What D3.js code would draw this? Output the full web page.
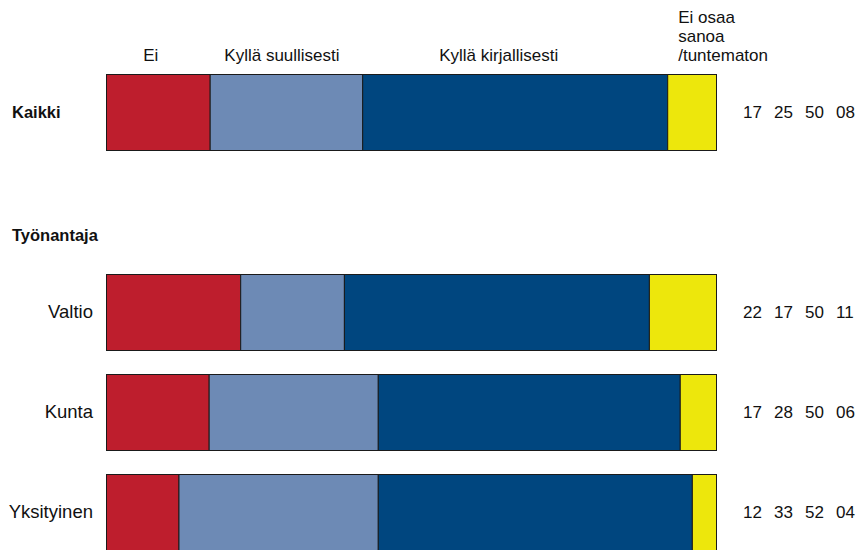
<!DOCTYPE html>
<html>
<head>
<meta charset="utf-8">
<script src="https://cdn.jsdelivr.net/npm/d3@7"></script>
<style>
  body { margin: 0; background: #fff; }
  svg { font-family: "Liberation Sans", Arial, sans-serif; }
</style>
</head>
<body>
<svg width="860" height="550"></svg>
<script>
var svg = d3.select("svg");

// data
var rows = ["Kaikki", "Työnantaja", "Valtio", "Kunta", "Yksityinen"];
var keys = ["Ei", "Kyllä suullisesti", "Kyllä kirjallisesti", "Ei osaa sanoa /tuntematon"];
var headerLines = [["Ei"], ["Kyllä suullisesti"], ["Kyllä kirjallisesti"], ["Ei osaa", "sanoa", "/tuntematon"]];
var ei = [17, 22, 17, 12];
var suullisesti = [25, 17, 28, 33];
var kirjallisesti = [50, 50, 50, 52];
var tuntematon = [8, 11, 6, 4];
var barRows = ["Kaikki", "Valtio", "Kunta", "Yksityinen"];
var colors = ["#be1e2d", "#6d8ab5", "#00467f", "#ede70c"];

var table = barRows.map(function (r, i) {
  return {
    row: r,
    "Ei": ei[i],
    "Kyllä suullisesti": suullisesti[i],
    "Kyllä kirjallisesti": kirjallisesti[i],
    "Ei osaa sanoa /tuntematon": tuntematon[i]
  };
});

var stack = d3.stack().keys(keys).offset(d3.stackOffsetExpand);
var series = stack(table);

var x = d3.scaleLinear().domain([0, 1]).range([106, 716]);
var y = d3.scaleBand().domain(rows).range([62, 562]).paddingInner(0.24).paddingOuter(0.12);
var color = d3.scaleOrdinal().domain(keys).range(colors);
var pad = d3.format("02d");

// bars
svg.append("g").selectAll("g")
  .data(series)
  .enter().append("g")
  .attr("fill", function (d) { return color(d.key); })
  .selectAll("rect")
  .data(function (d) { return d; })
  .enter().append("rect")
  .attr("x", function (d) { return x(d[0]) + 0.5; })
  .attr("y", function (d) { return y(d.data.row) + 0.5; })
  .attr("width", function (d) { return x(d[1]) - x(d[0]); })
  .attr("height", y.bandwidth())
  .attr("stroke", "#1a1a1a")
  .attr("stroke-width", 1);

// column headers, over the Kaikki bar
var dxs = [-7, -4, -16, 0];
var lh = 19;
var head = svg.append("g").attr("font-size", 17).attr("fill", "#111");
series.forEach(function (s, i) {
  var seg = s[0];
  var lines = headerLines[i];
  var t = head.append("text");
  if (lines.length === 1) {
    t.attr("x", (x(seg[0]) + x(seg[1])) / 2 + dxs[i])
      .attr("y", 61)
      .attr("text-anchor", "middle")
      .text(lines[0]);
  } else {
    t.attr("x", x(seg[0]) + 11).attr("y", 61 - (lines.length - 1) * lh);
    t.selectAll("tspan").data(lines).enter().append("tspan")
      .attr("x", x(seg[0]) + 11)
      .attr("dy", function (d, j) { return j === 0 ? 0 : lh; })
      .text(function (d) { return d; });
  }
});

// row labels
var labels = svg.append("g").attr("fill", "#111");
labels.append("text")
  .attr("x", 12).attr("y", y("Kaikki") + y.bandwidth() / 2)
  .attr("dy", "0.35em")
  .attr("font-size", 16.5).attr("font-weight", "bold")
  .text("Kaikki");
labels.append("text")
  .attr("x", 12).attr("y", y("Työnantaja") + y.bandwidth() * 0.8)
  .attr("dy", "0.35em")
  .attr("font-size", 16.5).attr("font-weight", "bold")
  .text("Työnantaja");
labels.selectAll(".sub")
  .data(barRows.slice(1))
  .enter().append("text")
  .attr("class", "sub")
  .attr("x", 93)
  .attr("y", function (d) { return y(d) + y.bandwidth() / 2; })
  .attr("dy", "0.35em")
  .attr("text-anchor", "end")
  .attr("font-size", 18.5)
  .text(function (d) { return d; });

// value columns on the right
var col = d3.scalePoint().domain(keys).range([743, 836]);
var vals = svg.append("g").attr("font-size", 17).attr("fill", "#111");
table.forEach(function (d) {
  keys.forEach(function (k) {
    vals.append("text")
      .attr("x", col(k))
      .attr("y", y(d.row) + y.bandwidth() / 2)
      .attr("dy", "0.35em")
      .text(pad(d[k]));
  });
});
</script>
</body>
</html>
